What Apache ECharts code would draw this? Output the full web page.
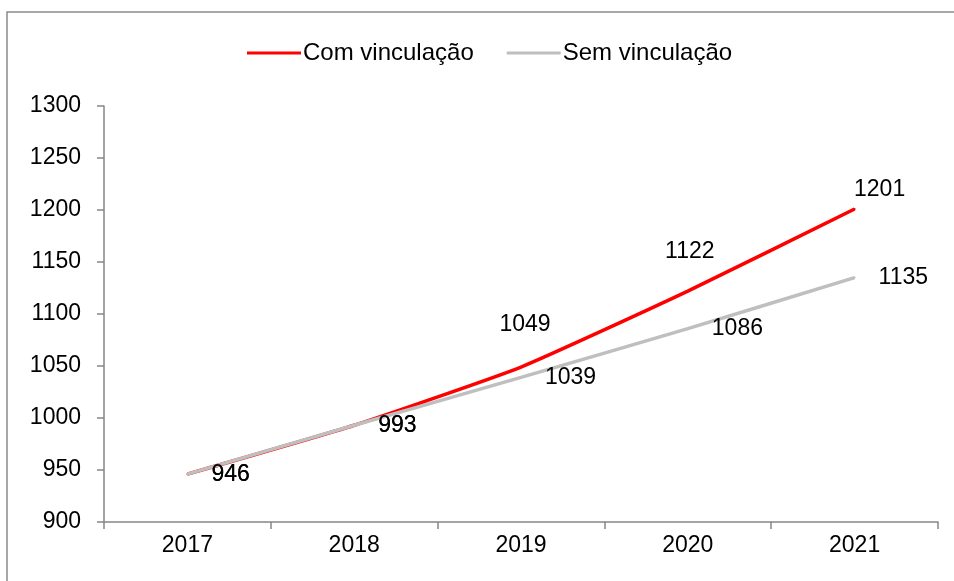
<!DOCTYPE html>
<html>
<head>
<meta charset="utf-8">
<script src="https://cdn.jsdelivr.net/npm/echarts@6/dist/echarts.min.js"></script>
<style>
  html, body { margin: 0; padding: 0; background: #fff; }
  #main { width: 954px; height: 581px; }
</style>
</head>
<body>
<div id="main"></div>
<script>
// dados
var anos = ['2017', '2018', '2019', '2020', '2021'];
var comVinculacao = [946, 993, 1049, 1122, 1201];
var semVinculacao = [946, 993, 1039, 1086, 1135];
var yTicks = [900, 950, 1000, 1050, 1100, 1150, 1200, 1250, 1300];

var fonte = 'Liberation Sans';
var tamanho = 23;

// rótulos da serie vermelha: 2017/2018 iguais aos da cinza, resto acima do ponto
var dadosCom = comVinculacao.map(function (v, i) {
  var lbl;
  if (i < 2) {
    lbl = { position: 'right', distance: 23 };
  } else if (i == 2) {
    lbl = { position: 'inside', offset: [4, -42] };
  } else if (i == 3) {
    lbl = { position: 'inside', offset: [2, -39] };
  } else {
    lbl = { position: 'inside', offset: [25, -19] };
  }
  return { value: v, label: lbl };
});

var myChart = echarts.init(document.getElementById('main'));

var option = {
  animation: false,
  textStyle: { fontFamily: fonte },
  graphic: [{
    type: 'rect',
    shape: { x: 7, y: 12, width: 1000, height: 700 },
    style: { fill: 'none', stroke: '#8c8c8c', lineWidth: 1.5 },
    silent: true
  }],
  legend: {
    top: 36,
    left: 242,
    itemWidth: 54,
    itemHeight: 3,
    itemGap: 33,
    textStyle: { fontSize: 24, color: '#000', fontFamily: fonte, padding: [0, 0, 0, -3] },
    data: [
      { name: 'Com vinculação', icon: 'rect' },
      { name: 'Sem vinculação', icon: 'rect' }
    ]
  },
  grid: { left: 104, right: 16, top: 106, bottom: 59 },
  xAxis: {
    type: 'category',
    data: anos,
    boundaryGap: true,
    axisLine: { lineStyle: { color: '#868686', width: 1.5 } },
    axisTick: { show: true, length: 7, alignWithLabel: false, lineStyle: { color: '#868686', width: 1.5 } },
    axisLabel: { fontSize: tamanho, color: '#000', margin: 12, fontFamily: fonte }
  },
  yAxis: {
    type: 'value',
    min: yTicks[0],
    max: yTicks[yTicks.length - 1],
    interval: 50,
    splitLine: { show: false },
    axisLine: { show: true, lineStyle: { color: '#868686', width: 1.5 } },
    axisTick: { show: true, length: 7, lineStyle: { color: '#868686', width: 1.5 } },
    axisLabel: {
      fontSize: tamanho, color: '#000', margin: 23, fontFamily: fonte,
      formatter: function (v) { return String(v); }
    }
  },
  series: [
    {
      name: 'Com vinculação',
      type: 'line',
      data: dadosCom,
      smooth: 0.15,
      symbol: 'circle',
      symbolSize: 2,
      itemStyle: { color: '#ff0000' },
      lineStyle: { color: '#ff0000', width: 3.5 },
      label: {
        show: true,
        fontSize: tamanho,
        color: '#000',
        fontFamily: fonte
      },
      z: 2
    },
    {
      name: 'Sem vinculação',
      type: 'line',
      data: semVinculacao,
      smooth: 0.15,
      symbol: 'circle',
      symbolSize: 2,
      itemStyle: { color: '#bfbfbf' },
      lineStyle: { color: '#bfbfbf', width: 3.5 },
      label: {
        show: true,
        position: 'right',
        distance: 23,
        fontSize: tamanho,
        color: '#000',
        fontFamily: fonte
      },
      z: 3
    }
  ]
};

myChart.setOption(option);
</script>
</body>
</html>
